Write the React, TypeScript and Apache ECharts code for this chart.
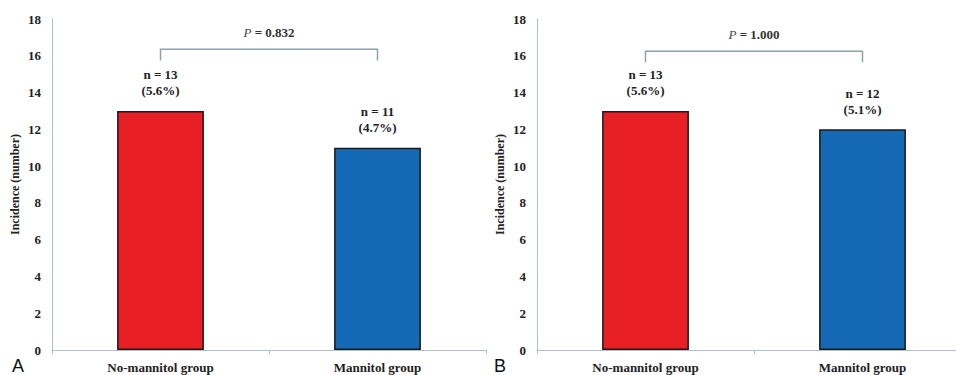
import React, { useEffect, useRef } from "react";
import * as echarts from "echarts";

const categories = ["No-mannitol group", "Mannitol group"];
const countsA = [13, 11];
const pctA = ["5.6%", "4.7%"];
const countsB = [13, 12];
const pctB = ["5.6%", "5.1%"];
const pValues = ["0.832", "1.000"];
const bracketTop = [16.35, 16.25];
const bracketBottom = [15.75, 15.65];
const yTicks = [0, 2, 4, 6, 8, 10, 12, 14, 16, 18];
const panelLetters = ["A", "B"];

const SERIF = "'Liberation Serif', 'Times New Roman', serif";
const SANS = "'Liberation Sans', Arial, sans-serif";
const barColors = ["#e82026", "#1569b4"];
const axisColor = "#a9c3d2";

export default function App() {
  const ref = useRef<HTMLDivElement>(null);
  useEffect(() => {
    document.body.style.margin = "0";
    const chart = echarts.init(ref.current!, null, { renderer: "svg" });
    const grids = [
      { left: 52, top: 19, width: 434, height: 331, outerBoundsMode: "none", containLabel: false },
      { left: 537, top: 19, width: 434, height: 331, outerBoundsMode: "none", containLabel: false },
    ];
    const counts = [countsA, countsB];
    const pcts = [pctA, pctB];
    const xAxis = grids.map((_, gi) => ({
      type: "category",
      gridIndex: gi,
      data: categories,
      axisLine: { lineStyle: { color: axisColor, width: 1 } },
      axisTick: { show: true, length: 4, lineStyle: { color: axisColor } },
      axisLabel: {
        color: "#222",
        fontFamily: SERIF,
        fontWeight: "bold",
        fontSize: 13,
        margin: 11,
      },
    }));
    const yAxis = grids.map((_, gi) => ({
      type: "value",
      gridIndex: gi,
      min: yTicks[0],
      max: yTicks[yTicks.length - 1],
      interval: yTicks[1] - yTicks[0],
      name: "Incidence (number)",
      nameLocation: "middle",
      nameGap: 31,
      nameTextStyle: {
        color: "#222",
        fontFamily: SERIF,
        fontWeight: "bold",
        fontSize: 12,
      },
      axisLine: { show: true, lineStyle: { color: axisColor, width: 1 } },
      axisTick: { show: false },
      splitLine: { show: false },
      axisLabel: {
        color: "#222",
        fontFamily: SERIF,
        fontWeight: "bold",
        fontSize: 13,
        margin: 11,
      },
    }));
    const barSeries = grids.map((_, gi) => ({
      type: "bar",
      xAxisIndex: gi,
      yAxisIndex: gi,
      barWidth: "40%",
      data: counts[gi].map((v, i) => ({
        value: v,
        itemStyle: { color: barColors[i] },
      })),
      itemStyle: { borderColor: "#1a1a1a", borderWidth: 1.5 },
      label: {
        show: true,
        position: "top",
        distance: 12,
        formatter: (p: any) =>
          `{t|n = ${counts[gi][p.dataIndex]}}\n{t|(${pcts[gi][p.dataIndex]})}`,
        rich: {
          t: {
            fontFamily: SERIF,
            fontWeight: "bold",
            fontSize: 13,
            color: "#222",
            lineHeight: 16,
          },
        },
      },
    }));
    const bracketSeries = grids.map((_, gi) => ({
      type: "custom",
      xAxisIndex: gi,
      yAxisIndex: gi,
      silent: true,
      clip: false,
      data: [[0, 1, bracketTop[gi], bracketBottom[gi]]],
      renderItem: (params: any, api: any) => {
        const a0 = api.coord([api.value(0), api.value(2)]);
        const a1 = api.coord([api.value(1), api.value(2)]);
        const d0 = api.coord([api.value(0), api.value(3)]);
        const d1 = api.coord([api.value(1), api.value(3)]);
        return {
          type: "group",
          children: [
            {
              type: "polyline",
              shape: { points: [d0, a0, a1, d1] },
              style: { stroke: "#8ea2aa", lineWidth: 1.5, fill: null },
            },
            {
              type: "text",
              x: (a0[0] + a1[0]) / 2,
              y: a0[1] - 17,
              style: {
                text: `{i|P} {b|= ${pValues[gi]}}`,
                align: "center",
                verticalAlign: "middle",
                rich: {
                  i: {
                    fontFamily: SERIF,
                    fontStyle: "italic",
                    fontSize: 13,
                    fill: "#444",
                  },
                  b: {
                    fontFamily: SERIF,
                    fontWeight: "bold",
                    fontSize: 13,
                    fill: "#333",
                  },
                },
              },
            },
          ],
        };
      },
    }));
    chart.setOption({
      animation: false,
      backgroundColor: "#ffffff",
      grid: grids,
      xAxis,
      yAxis,
      series: [...barSeries, ...bracketSeries],
      graphic: [
        {
          type: "text",
          left: 12,
          top: 357,
          style: {
            text: panelLetters[0],
            fontFamily: SANS,
            fontSize: 18,
            fill: "#111",
          },
        },
        {
          type: "text",
          left: 494,
          top: 357,
          style: {
            text: panelLetters[1],
            fontFamily: SANS,
            fontSize: 18,
            fill: "#111",
          },
        },
      ],
    });
    return () => chart.dispose();
  }, []);
  return <div ref={ref} style={{ width: 956, height: 375 }} />;
}
